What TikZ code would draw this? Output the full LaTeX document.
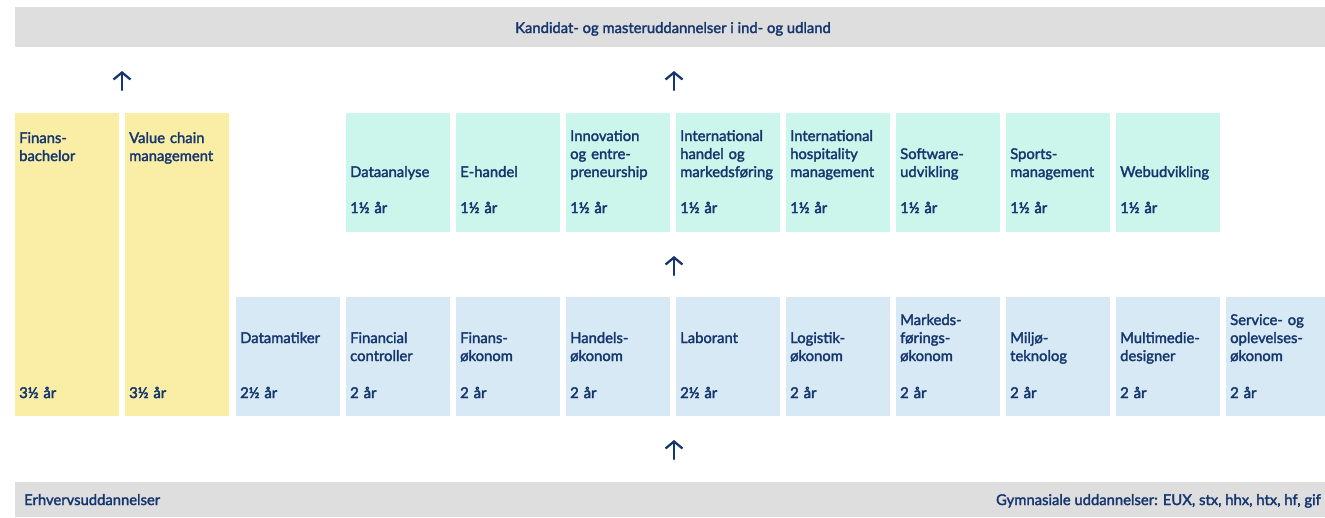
\documentclass[tikz,border=0pt]{standalone}
\usepackage{fontspec}
\setmainfont{Lato}
\newfontface\medfont{Lato}[FakeBold=2.1]
\newfontface\yrfont{Lato}[FakeBold=2.8]
\usetikzlibrary{arrows.meta}
\definecolor{navy}{HTML}{15366E}
\definecolor{barGray}{HTML}{DEDEDE}
\definecolor{yellowBg}{HTML}{FAEDA5}
\definecolor{mintBg}{HTML}{CCF5EC}
\definecolor{blueBg}{HTML}{D7E9F5}

\begin{document}
\begin{tikzpicture}[x=1pt,y=-1pt,line cap=round,line join=round,
  bar/.style={fill=barGray,inner sep=0pt,anchor=north west,minimum height=40pt,minimum width=1310pt},
  box/.style={inner sep=0pt,anchor=north west,minimum width=104pt,minimum height=119pt},
  title/.style={text=navy,font=\medfont\fontsize{14.8}{18}\selectfont,text width=104pt,align=left,inner sep=0pt,anchor=base west},
  years/.style={title,font=\yrfont\fontsize{14.8}{18}\selectfont},
  up/.style={-{Straight Barb[length=7pt,width=17pt,line width=2.3pt]},line width=2.3pt,draw=navy}]
\useasboundingbox (0,0) rectangle (1325,517);
% bars
\node[bar] (kandidat) at (15,7) {};
\node[title,text width=,anchor=base] (kandidat-t) at (673,33) {Kandidat- og masteruddannelser i ind- og udland};
\node[bar,minimum height=35pt] (erhverv) at (15,482) {};
\node[title,text width=,anchor=base west] (erhverv-t) at (24,505) {Erhvervsuddannelser};
\node[title,text width=,anchor=base east] (gym-t) at (1321,505) {Gymnasiale uddannelser: EUX, stx, hhx, htx, hf, gif};
% bachelors
\node[box,fill=yellowBg,minimum height=303pt] (finans) at (15,113) {};
\node[title] (finans-t) at (19,143) {Finans-\\bachelor};
\node[years] (finans-y) at (19,398) {3½ år};
\node[box,fill=yellowBg,minimum height=303pt] (vcm) at (125,113) {};
\node[title] (vcm-t) at (129,143) {Value chain\\management};
\node[years] (vcm-y) at (129,398) {3½ år};
% top row, 1 1/2 years
\foreach \i/\n/\t in {0/1/{Dataanalyse},1/1/{E-handel},2/3/{Innovation\\og entre-\\preneurship},
  3/3/{International\\handel og\\markedsføring},4/3/{International\\hospitality\\management},
  5/2/{Software-\\udvikling},6/2/{Sports-\\management},7/1/{Webudvikling}}
{
\node[box,fill=mintBg] (top\i) at (346+110*\i,113) {};
\node[title] (top\i-t) at (350+110*\i,195-18*\n) {\t};
\node[years] (top\i-y) at (350+110*\i,213) {1½ år};
}
% bottom row
\foreach \i/\b/\t/\a in {0/343/{Datamatiker}/{2½ år},1/343/{Financial\\controller}/{2 år},
  2/343/{Finans-\\økonom}/{2 år},3/343/{Handels-\\økonom}/{2 år},4/343/{Laborant}/{2½ år},
  5/343/{Logistik-\\økonom}/{2 år},6/325/{Markeds-\\førings-\\økonom}/{2 år},
  7/343/{Miljø-\\teknolog}/{2 år},8/343/{Multimedie-\\designer}/{2 år},
  9/325/{Service- og\\oplevelses-\\økonom}/{2 år}}
{
\node[box,fill=blueBg] (low\i) at (236+110*\i,297) {};
\node[title] (low\i-t) at (240+110*\i,\b) {\t};
\node[years] (low\i-y) at (240+110*\i,398) {\a};
}
% arrows
\coordinate (a1s) at (122,90); \coordinate (a1e) at (122,71);
\coordinate (a2s) at (674,90); \coordinate (a2e) at (674,71);
\coordinate (a3s) at (674,275); \coordinate (a3e) at (674,256);
\coordinate (a4s) at (674,459); \coordinate (a4e) at (674,440);
\draw[up] (a1s) -- (a1e);
\draw[up] (a2s) -- (a2e);
\draw[up] (a3s) -- (a3e);
\draw[up] (a4s) -- (a4e);
\end{tikzpicture}
\end{document}
